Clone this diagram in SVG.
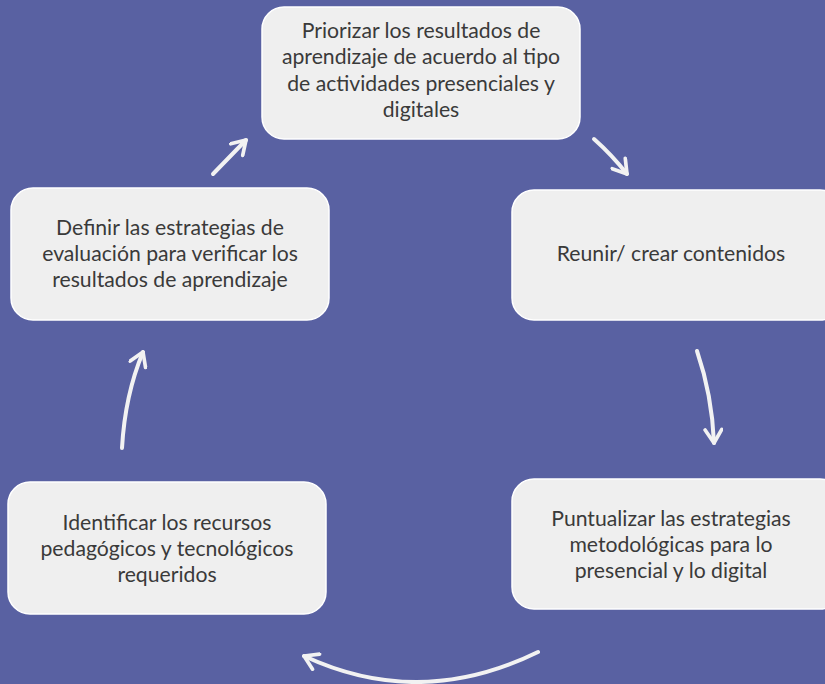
<svg xmlns="http://www.w3.org/2000/svg" width="825" height="684" viewBox="0 0 825 684">
<style>
.box{fill:#efefef;stroke:#ffffff;stroke-width:1.5}
.t{font-family:"Lato","Liberation Sans",sans-serif;font-size:21.2px;fill:#3a3a3a;text-anchor:middle}
.c{fill:none;stroke:#f2f2f2;stroke-width:4;stroke-linecap:round;stroke-linejoin:round}
</style>
<defs>
<marker id="ah" viewBox="0 0 12 12" refX="10" refY="6" markerWidth="5" markerHeight="5" markerUnits="strokeWidth" orient="auto">
<path d="M2,1 L10,6 L2,11" fill="none" stroke="#f2f2f2" stroke-width="2.2" stroke-linecap="round" stroke-linejoin="round"/>
</marker>
</defs>
<rect width="825" height="684" fill="#5961a2"/>
<g id="n1"><rect class="box" x="262" y="7" width="318" height="132" rx="22"/>
<text class="t" x="421" y="38">Priorizar los resultados de</text>
<text class="t" x="421" y="64">aprendizaje de acuerdo al tipo</text>
<text class="t" x="421" y="91">de actividades presenciales y</text>
<text class="t" x="421" y="117">digitales</text></g>
<g id="n2"><rect class="box" x="512" y="190" width="330" height="130" rx="22"/>
<text class="t" x="671" y="261">Reunir/ crear contenidos</text></g>
<g id="n3"><rect class="box" x="512" y="479" width="330" height="130" rx="22"/>
<text class="t" x="671" y="526">Puntualizar las estrategias</text>
<text class="t" x="671" y="552">metodológicas para lo</text>
<text class="t" x="671" y="578">presencial y lo digital</text></g>
<g id="n4"><rect class="box" x="8" y="482" width="318" height="132" rx="22"/>
<text class="t" x="167" y="530">Identificar los recursos</text>
<text class="t" x="167" y="556">pedagógicos y tecnológicos</text>
<text class="t" x="167" y="582">requeridos</text></g>
<g id="n5"><rect class="box" x="11" y="188" width="318" height="132" rx="22"/>
<text class="t" x="170" y="235">Definir las estrategias de</text>
<text class="t" x="170" y="261">evaluación para verificar los</text>
<text class="t" x="170" y="287">resultados de aprendizaje</text></g>
<g id="connectors">
<path class="c" d="M213,174 L246,140" marker-end="url(#ah)"/>
<path class="c" d="M594,139 Q612,155 627,174" marker-end="url(#ah)"/>
<path class="c" d="M697,351 Q712,395 714,443" marker-end="url(#ah)"/>
<path class="c" d="M538,652 Q420,710 304,656" marker-end="url(#ah)"/>
<path class="c" d="M122,448 Q125,395 143,352" marker-end="url(#ah)"/>
</g>
</svg>
